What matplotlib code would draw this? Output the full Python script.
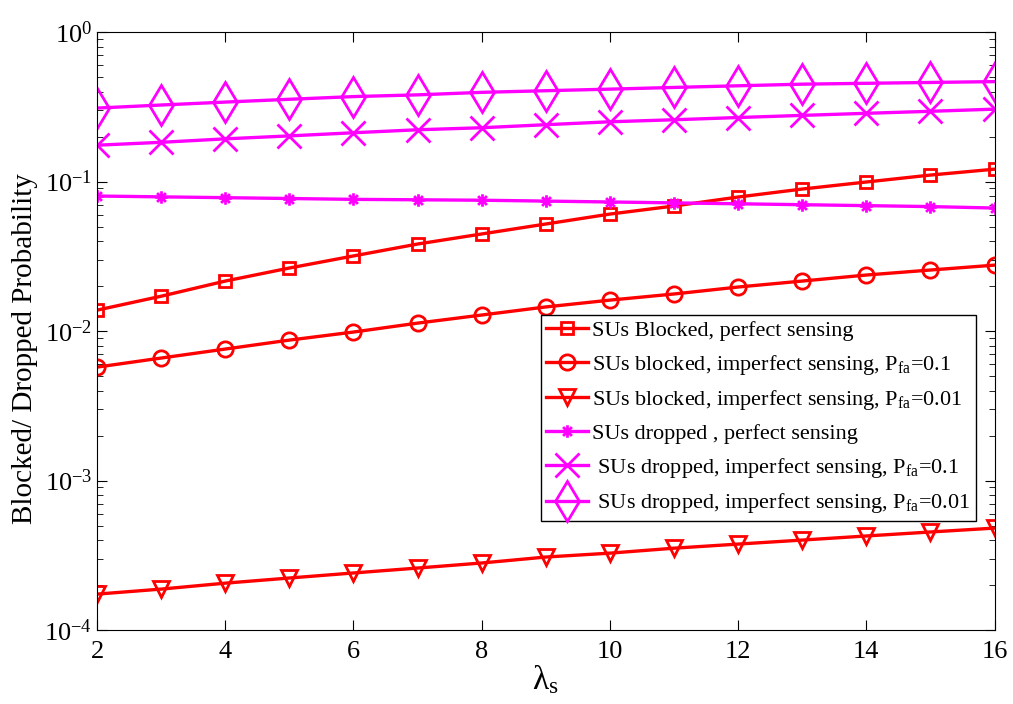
"""
Probabilidade de bloqueio / queda dos SUs em funcao de lambda_s
"""
import numpy as np
import matplotlib
matplotlib.use('Agg')
import matplotlib.pyplot as plt
from matplotlib.path import Path

plt.rcParams['font.family'] = ['Liberation Serif', 'DejaVu Serif']
plt.rcParams['mathtext.fontset'] = 'custom'
plt.rcParams['mathtext.rm'] = 'Liberation Serif'
plt.rcParams['mathtext.it'] = 'Liberation Serif:italic'

# Dados
lam = np.arange(2, 17)

blk_perf = [0.0138, 0.0171, 0.0216, 0.0264, 0.0318, 0.0382, 0.0446, 0.052,
            0.0606, 0.0686, 0.0788, 0.0891, 0.0993, 0.1105, 0.121]
blk_pfa01 = [0.00574, 0.0066, 0.00758, 0.0087, 0.00985, 0.0113, 0.0128, 0.0145,
             0.0161, 0.0177, 0.0197, 0.0216, 0.0237, 0.0256, 0.0276]
blk_pfa001 = [1.74e-4, 1.88e-4, 2.06e-4, 2.23e-4, 2.41e-4, 2.60e-4, 2.81e-4, 3.08e-4,
              3.27e-4, 3.53e-4, 3.76e-4, 4.0e-4, 4.26e-4, 4.53e-4, 4.81e-4]
drp_perf = [0.080, 0.079, 0.078, 0.077, 0.076, 0.0755, 0.075, 0.074,
            0.073, 0.072, 0.071, 0.070, 0.069, 0.068, 0.0665]
drp_pfa01 = [0.175, 0.183, 0.193, 0.202, 0.212, 0.222, 0.229, 0.240,
             0.251, 0.259, 0.268, 0.277, 0.286, 0.295, 0.305]
drp_pfa001 = [0.31, 0.325, 0.34, 0.355, 0.37, 0.38, 0.395, 0.405,
              0.415, 0.426, 0.437, 0.448, 0.454, 0.46, 0.466]

labels = ['SUs Blocked, perfect sensing',
          r'SUs blocked, imperfect sensing, $\mathregular{P_{fa}}$=0.1',
          r'SUs blocked, imperfect sensing, $\mathregular{P_{fa}}$=0.01',
          'SUs dropped , perfect sensing',
          r' SUs dropped, imperfect sensing, $\mathregular{P_{fa}}$=0.1',
          r' SUs dropped, imperfect sensing, $\mathregular{P_{fa}}$=0.01']

# marcador asterisco (estilo matlab)
c = 0.5
s = 0.3536
ast = Path([(-c, 0), (c, 0), (0, -c), (0, c), (-s, -s), (s, s), (-s, s), (s, -s)],
           [Path.MOVETO, Path.LINETO] * 4)

red = '#ff0000'
mag = '#ff00ff'

fig = plt.figure(figsize=(10.13, 7.04), dpi=100)
ax = fig.add_axes([0.0958, 0.105, 0.886, 0.8495])

kw = dict(lw=2.4, mew=2.0, mfc='none')
ax.semilogy(lam, blk_perf, color=red, marker='s', ms=8, label=labels[0], **kw)
ax.semilogy(lam, blk_pfa01, color=red, marker='o', ms=11, label=labels[1], **kw)
ax.semilogy(lam, blk_pfa001, color=red, marker='v', ms=11, label=labels[2], **kw)
ax.semilogy(lam, drp_perf, color=mag, marker=ast, ms=9, label=labels[3], **kw)
ax.semilogy(lam, drp_pfa01, color=mag, marker='x', ms=17, label=labels[4], **kw)
ax.semilogy(lam, drp_pfa001, color=mag, marker='d', ms=20, label=labels[5], **kw)

ax.set_xlim(2, 16)
ax.set_ylim(1e-4, 1)
ax.set_xticks(np.arange(2, 17, 2))
ax.tick_params(which='both', direction='in', top=True, right=True, labelsize=19)
ax.tick_params(axis='x', pad=8)
ax.tick_params(which='major', length=7)
ax.tick_params(which='minor', length=4)
ax.set_xlabel(r'$\mathregular{\lambda_s}$', fontsize=24, labelpad=0)
ax.set_ylabel('Blocked/ Dropped Probability', fontsize=21)
ax.yaxis.set_label_coords(-0.066, 0.47)

leg = ax.legend(loc='upper right', bbox_to_anchor=(0.979, 0.527), fontsize=16,
                fancybox=False, edgecolor='black', framealpha=1,
                handlelength=1.85, handletextpad=0.2, labelspacing=0.52,
                borderpad=0.25, borderaxespad=0)
leg.get_frame().set_linewidth(1.0)

fig.savefig('out.png', dpi=100)
